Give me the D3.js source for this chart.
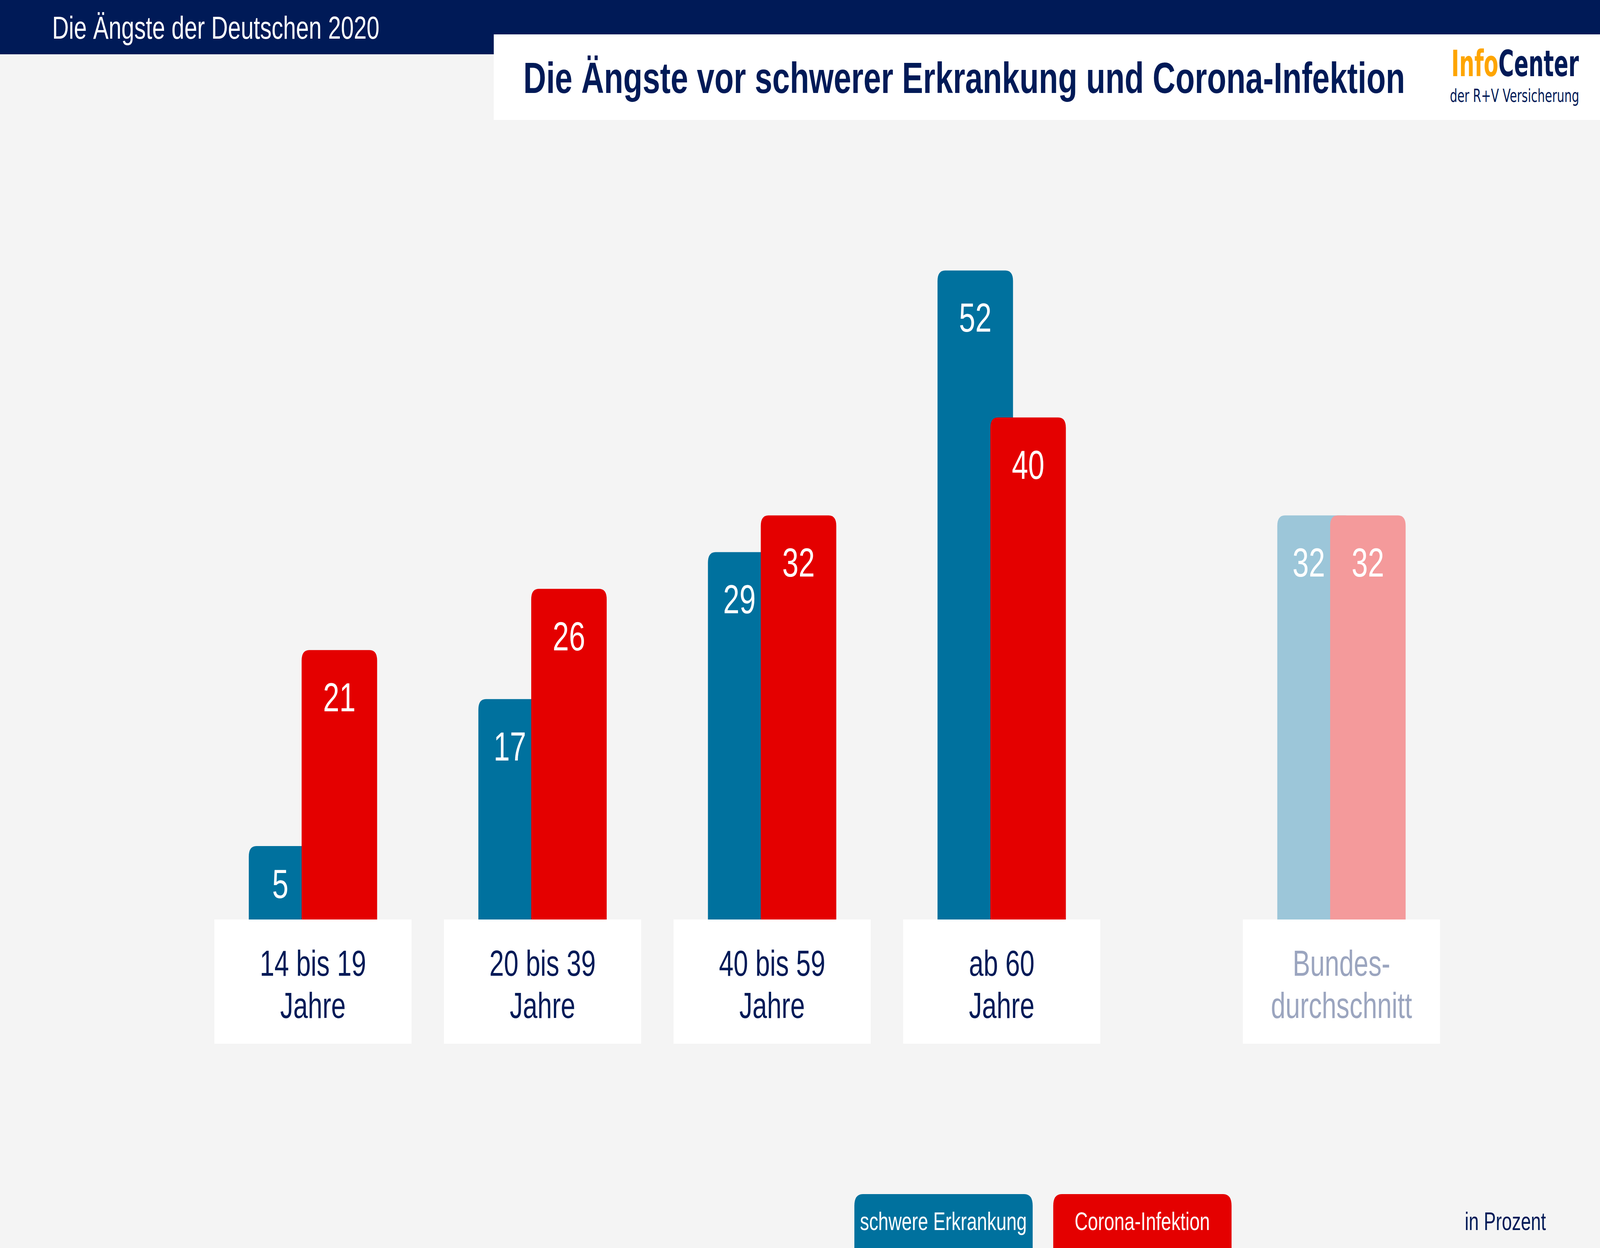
<!DOCTYPE html>
<html>
<head>
<meta charset="utf-8">
<script src="https://cdn.jsdelivr.net/npm/d3@7"></script>
<style>
  html, body { margin: 0; padding: 0; overflow: hidden; background: #f4f4f4; }
  svg { display: block; }
  text { font-family: "Liberation Sans", Arial, sans-serif; }
</style>
</head>
<body>
<div id="chart"></div>
<script>
var categories = ["14 bis 19 Jahre", "20 bis 39 Jahre", "40 bis 59 Jahre", "ab 60 Jahre", "Bundesdurchschnitt"];
var categoryLines = [["14 bis 19", "Jahre"], ["20 bis 39", "Jahre"], ["40 bis 59", "Jahre"], ["ab 60", "Jahre"], ["Bundes-", "durchschnitt"]];
var erkrankung = [5, 17, 29, 52, 32];
var corona = [21, 26, 32, 40, 32];
var seriesNames = ["schwere Erkrankung", "Corona-Infektion"];

var W = 5680, H = 3195;
var navy = "#001a57",
    blue = "#00719e", red = "#e40000",
    blueLight = "#9cc6d9", redLight = "#f49a9b",
    avgText = "#9ba5bf";

// the window can be narrower than the slide, so the drawing is stretched to fill it
var svg = d3.select("#chart").append("svg")
    .attr("viewBox", "0 0 " + W + " " + H)
    .attr("preserveAspectRatio", "none")
    .style("width", "100vw")
    .style("height", "100vh");

svg.append("rect").attr("width", W).attr("height", H).attr("fill", "#f4f4f4");

// header
svg.append("rect").attr("width", W).attr("height", 88).attr("fill", navy);
svg.append("rect").attr("width", 1753).attr("height", 139).attr("fill", navy);
svg.append("rect").attr("x", 1753).attr("y", 88).attr("width", W - 1753).attr("height", 219).attr("fill", "#fff");

svg.append("text")
    .attr("x", 185).attr("y", 99)
    .attr("fill", "#fff")
    .style("font-size", "82px")
    .text("Die Ängste der Deutschen 2020");

svg.append("text")
    .attr("x", 1858).attr("y", 238)
    .attr("fill", navy)
    .style("font-size", "112px")
    .style("font-weight", "bold")
    .text("Die Ängste vor schwerer Erkrankung und Corona-Infektion");

// logo, squeezed horizontally to the width of the original wordmark
var logoG = svg.append("g");
var logo = logoG.append("text")
    .style("font-family", "'DejaVu Sans', sans-serif")
    .style("font-size", "92px")
    .style("font-weight", "bold");
logo.append("tspan").attr("fill", "#fea500").text("Info");
logo.append("tspan").attr("fill", navy).text("Center");
var sx = 453 / logo.node().getComputedTextLength();
logoG.attr("transform", "translate(5152,195) scale(" + sx + ",1)");

svg.append("text")
    .attr("x", 5147).attr("y", 261)
    .attr("textLength", 459)
    .attr("lengthAdjust", "spacingAndGlyphs")
    .attr("fill", navy)
    .style("font-family", "'DejaVu Sans', sans-serif")
    .style("font-size", "46px")
    .text("der R+V Versicherung");

// scales
var x = d3.scalePoint().domain(categories.slice(0, 4)).range([1111, 3556]);
var xPos = function(i) {
    return i < 4 ? x(categories[i]) : x(categories[3]) + x.step() * 1.48;
};
var y = d3.scaleLinear().domain([-1, 60]).range([2354, 2354 - 61 * 31.35]);

var barW = 268, shift = barW * 0.7, rad = 27;
var boxW = 700, boxTop = y(-1), boxH = 318;

function topRounded(x0, y0, w, y1, r) {
    return "M" + x0 + "," + y1 +
        "V" + (y0 + r) +
        "Q" + x0 + "," + y0 + " " + (x0 + r) + "," + y0 +
        "H" + (x0 + w - r) +
        "Q" + (x0 + w) + "," + y0 + " " + (x0 + w) + "," + (y0 + r) +
        "V" + y1 + "Z";
}

var data = categories.map(function(c, i) {
    var cx = xPos(i);
    return {cat: c, i: i, cx: cx, lines: categoryLines[i],
            b: erkrankung[i], r: corona[i],
            bx: cx - (barW + shift) / 2, rx: cx - (barW + shift) / 2 + shift};
});

var plot = svg.append("g");

plot.selectAll(".bar-b").data(data).enter().append("path")
    .attr("class", "bar-b")
    .attr("d", function(d) { return topRounded(d.bx, y(d.b), barW, y(-1), rad); })
    .attr("fill", function(d) { return d.i < 4 ? blue : blueLight; });

plot.selectAll(".bar-r").data(data).enter().append("path")
    .attr("class", "bar-r")
    .attr("d", function(d) { return topRounded(d.rx, y(d.r), barW, y(-1), rad); })
    .attr("fill", function(d) { return d.i < 4 ? red : redLight; });

function labelY(v) {
    var top = y(v), bottom = y(-1);
    return Math.min(top + 157, (top + bottom) / 2 + 39);
}

plot.selectAll(".val-b").data(data).enter().append("text")
    .attr("class", "val-b")
    .attr("x", function(d) {
        var ly = labelY(d.b);
        if (ly - 80 < y(d.r) - 5) return d.bx + barW / 2;
        return (d.bx + d.rx) / 2 + 18;
    })
    .attr("y", function(d) { return labelY(d.b); })
    .attr("text-anchor", "middle")
    .attr("fill", "#fff")
    .style("font-size", "104px")
    .text(function(d) { return d.b; });

plot.selectAll(".val-r").data(data).enter().append("text")
    .attr("class", "val-r")
    .attr("x", function(d) { return d.rx + barW / 2; })
    .attr("y", function(d) { return labelY(d.r); })
    .attr("text-anchor", "middle")
    .attr("fill", "#fff")
    .style("font-size", "104px")
    .text(function(d) { return d.r; });

// category boxes
var cat = plot.selectAll(".cat").data(data).enter().append("g")
    .attr("class", "cat")
    .attr("transform", function(d) { return "translate(" + d.cx + "," + boxTop + ")"; });
cat.append("rect")
    .attr("x", -boxW / 2).attr("width", boxW).attr("height", boxH)
    .attr("fill", "#fff");
cat.append("text")
    .attr("text-anchor", "middle")
    .attr("fill", function(d) { return d.i < 4 ? navy : avgText; })
    .style("font-size", "93px")
    .selectAll("tspan").data(function(d) { return d.lines; }).enter().append("tspan")
        .attr("x", 0)
        .attr("y", function(l, j) { return 144 + j * 108; })
        .text(function(l) { return l; });

// legend
var legX = [3033, 3739], legColors = [blue, red];
var leg = svg.selectAll(".leg").data(seriesNames).enter().append("g")
    .attr("class", "leg")
    .attr("transform", function(d, i) { return "translate(" + legX[i] + ",3057)"; });
leg.append("path")
    .attr("d", function() { return topRounded(0, 0, 633, 160, 30); })
    .attr("fill", function(d, i) { return legColors[i]; });
leg.append("text")
    .attr("x", 316).attr("y", 92)
    .attr("text-anchor", "middle")
    .attr("fill", "#fff")
    .style("font-size", "65px")
    .text(function(d) { return d; });

svg.append("text")
    .attr("x", 5200).attr("y", 3149)
    .attr("fill", navy)
    .style("font-size", "64px")
    .text("in Prozent");
</script>
</body>
</html>
